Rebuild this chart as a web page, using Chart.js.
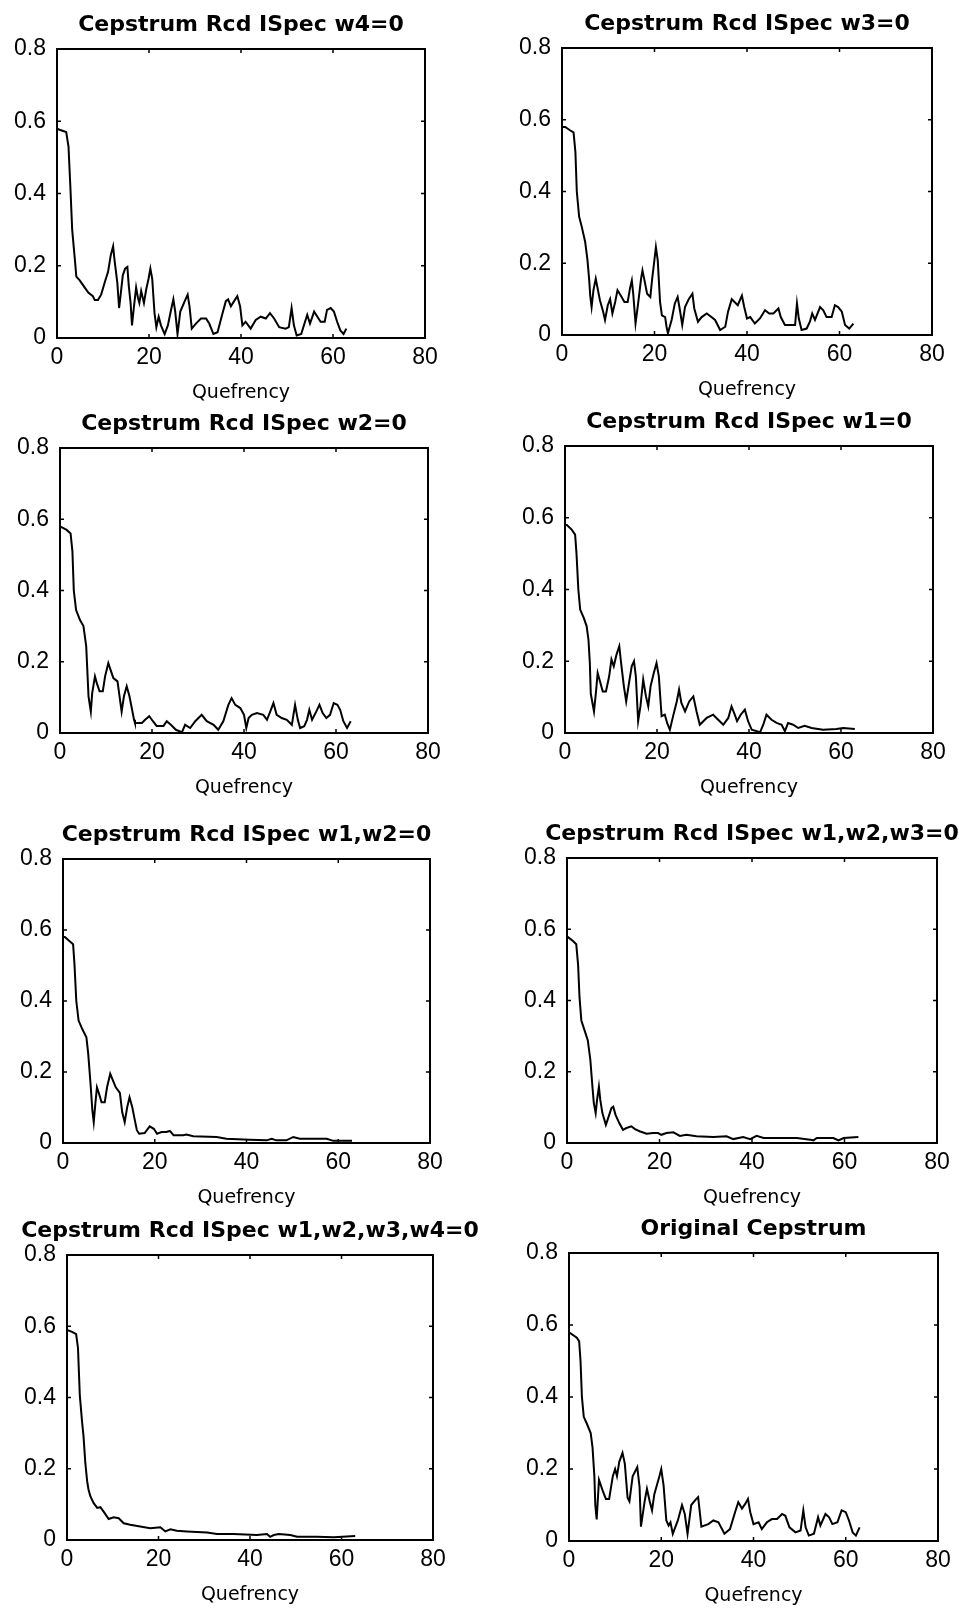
<!DOCTYPE html>
<html>
<head>
<meta charset="utf-8">
<script src="https://cdn.jsdelivr.net/npm/chart.js@4.4.0/dist/chart.umd.min.js"></script>
<style>
  html, body { margin: 0; padding: 0; background: #fff; overflow: hidden; }
  body { width: 959px; height: 1609px; position: relative; }
  canvas { position: absolute; }
</style>
</head>
<body>
<script>
// axis ticks shared by every panel
const xTicks = [0, 20, 40, 60, 80];
const yTicks = [0, 0.2, 0.4, 0.6, 0.8];

const titles = [
  'Cepstrum Rcd ISpec w4=0',
  'Cepstrum Rcd ISpec w3=0',
  'Cepstrum Rcd ISpec w2=0',
  'Cepstrum Rcd ISpec w1=0',
  'Cepstrum Rcd ISpec w1,w2=0',
  'Cepstrum Rcd ISpec w1,w2,w3=0',
  'Cepstrum Rcd ISpec w1,w2,w3,w4=0',
  'Original Cepstrum'
];

// [quefrency, value]
const cepW4 = [[0,0.58],[0.4,0.577],[2.0,0.57],[2.5,0.53],[2.9,0.42],[3.3,0.30],[3.9,0.215],[4.2,0.17],[4.9,0.16],[6.0,0.14],[6.8,0.126],[7.8,0.116],[8.2,0.105],[8.9,0.105],[9.6,0.12],[10.4,0.155],[11.1,0.183],[11.7,0.23],[12.2,0.254],[12.5,0.216],[13.1,0.155],[13.5,0.083],[13.8,0.116],[14.3,0.173],[14.8,0.192],[15.3,0.197],[15.6,0.145],[16.0,0.097],[16.3,0.035],[16.7,0.083],[17.2,0.14],[17.6,0.111],[17.9,0.097],[18.3,0.13],[18.9,0.097],[19.4,0.135],[19.9,0.164],[20.3,0.192],[20.7,0.164],[21.2,0.069],[21.6,0.03],[22.1,0.059],[22.6,0.035],[23.4,0.011],[24.1,0.035],[24.8,0.078],[25.3,0.107],[25.7,0.073],[26.2,0.011],[26.8,0.073],[27.7,0.10],[28.4,0.12],[28.8,0.088],[29.3,0.026],[30.2,0.04],[31.3,0.054],[32.4,0.054],[33.1,0.04],[34.0,0.011],[34.9,0.016],[36.0,0.069],[36.7,0.102],[37.2,0.107],[37.8,0.088],[38.5,0.102],[39.2,0.116],[39.8,0.088],[40.3,0.035],[41.0,0.045],[42.1,0.026],[43.2,0.05],[44.3,0.059],[45.4,0.054],[46.3,0.069],[47.2,0.054],[48.3,0.03],[49.7,0.026],[50.4,0.03],[51.0,0.083],[51.5,0.035],[52.1,0.007],[53.1,0.011],[53.8,0.04],[54.4,0.064],[55.0,0.04],[55.9,0.073],[56.6,0.059],[57.3,0.045],[58.2,0.045],[58.7,0.078],[59.5,0.083],[60.2,0.073],[60.9,0.045],[61.6,0.021],[62.3,0.011],[62.9,0.026]];

const cepW3 = [[0,0.58],[0.7,0.58],[1.8,0.57],[2.5,0.565],[2.9,0.51],[3.2,0.40],[3.7,0.33],[4.3,0.30],[5.0,0.26],[5.5,0.21],[5.9,0.15],[6.1,0.11],[6.4,0.078],[6.8,0.125],[7.3,0.157],[7.7,0.13],[8.2,0.097],[8.9,0.065],[9.3,0.042],[9.9,0.083],[10.4,0.10],[10.9,0.06],[11.5,0.092],[12.0,0.125],[12.7,0.11],[13.5,0.092],[14.2,0.092],[14.7,0.13],[15.1,0.152],[15.4,0.115],[15.9,0.032],[16.5,0.092],[17.1,0.157],[17.4,0.18],[17.9,0.148],[18.4,0.115],[19.1,0.106],[19.5,0.157],[19.9,0.20],[20.3,0.245],[20.7,0.208],[21.2,0.092],[21.6,0.055],[22.3,0.05],[22.6,0.023],[22.9,0.005],[23.7,0.042],[24.4,0.088],[25.0,0.106],[25.5,0.069],[26.0,0.028],[26.6,0.078],[27.4,0.10],[28.2,0.115],[28.6,0.074],[29.4,0.037],[30.2,0.05],[31.3,0.06],[32.3,0.05],[33.1,0.042],[34.2,0.014],[35.3,0.023],[35.9,0.065],[36.7,0.10],[37.3,0.092],[38.0,0.083],[38.9,0.11],[39.4,0.078],[40.0,0.046],[40.7,0.05],[41.7,0.032],[42.8,0.046],[43.9,0.069],[44.8,0.06],[45.7,0.06],[46.8,0.074],[47.3,0.05],[48.2,0.028],[49.3,0.028],[50.4,0.028],[50.8,0.088],[51.2,0.046],[51.8,0.014],[52.9,0.018],[53.6,0.037],[54.1,0.06],[54.7,0.042],[55.8,0.078],[56.5,0.069],[57.2,0.05],[58.3,0.05],[59.0,0.083],[59.7,0.078],[60.5,0.065],[61.2,0.028],[62.1,0.018],[63.0,0.032]];

const cepW2 = [[0,0.58],[1.45,0.57],[2.3,0.56],[2.7,0.51],[3.0,0.40],[3.5,0.345],[4.35,0.317],[5.1,0.30],[5.7,0.243],[5.9,0.187],[6.2,0.103],[6.7,0.06],[7.0,0.112],[7.6,0.159],[8.0,0.14],[8.6,0.117],[9.3,0.117],[9.8,0.159],[10.5,0.196],[11.1,0.173],[11.6,0.154],[12.5,0.145],[13.05,0.093],[13.4,0.06],[13.9,0.103],[14.5,0.131],[15.1,0.103],[15.6,0.07],[16.1,0.037],[16.3,0.028],[17.8,0.028],[18.5,0.037],[19.4,0.047],[20.2,0.033],[21.0,0.02],[22.5,0.02],[23.2,0.033],[24.1,0.023],[25.2,0.009],[26.5,0.002],[27.2,0.023],[28.3,0.014],[29.4,0.033],[30.8,0.051],[31.9,0.033],[33.4,0.023],[34.4,0.009],[35.5,0.033],[36.6,0.079],[37.3,0.098],[38.1,0.079],[39.2,0.07],[40.0,0.051],[40.5,0.014],[41.0,0.042],[41.7,0.051],[42.8,0.056],[44.2,0.051],[45.0,0.037],[45.7,0.06],[46.4,0.084],[47.1,0.051],[48.2,0.042],[49.3,0.037],[50.4,0.023],[51.1,0.079],[51.7,0.037],[52.2,0.014],[53.1,0.019],[53.7,0.037],[54.2,0.065],[54.8,0.037],[55.7,0.06],[56.4,0.079],[57.1,0.056],[57.9,0.042],[58.7,0.051],[59.5,0.084],[60.3,0.079],[60.9,0.065],[61.6,0.033],[62.4,0.014],[63.2,0.033]];

const cepW1 = [[0,0.58],[0.4,0.58],[1.45,0.567],[2.2,0.553],[2.5,0.50],[2.9,0.40],[3.3,0.344],[4.1,0.32],[4.7,0.298],[5.1,0.26],[5.4,0.195],[5.6,0.11],[6.3,0.06],[6.7,0.11],[7.1,0.167],[7.6,0.144],[8.2,0.116],[8.9,0.116],[9.6,0.158],[10.1,0.205],[10.6,0.186],[11.2,0.219],[11.8,0.242],[12.2,0.195],[12.8,0.13],[13.3,0.088],[13.8,0.13],[14.5,0.186],[15.0,0.2],[15.4,0.158],[15.9,0.033],[16.4,0.074],[17.0,0.149],[17.6,0.102],[18.1,0.074],[18.6,0.13],[19.3,0.167],[19.9,0.195],[20.4,0.158],[21.0,0.047],[21.7,0.051],[22.2,0.028],[22.8,0.009],[23.5,0.047],[24.3,0.088],[24.8,0.121],[25.3,0.084],[26.1,0.06],[27.0,0.088],[27.9,0.102],[28.6,0.06],[29.3,0.023],[30.8,0.042],[32.2,0.051],[33.3,0.037],[34.4,0.023],[35.5,0.042],[36.2,0.074],[36.9,0.051],[37.4,0.033],[38.2,0.051],[39.1,0.065],[39.8,0.033],[40.6,0.009],[42.4,0.002],[43.1,0.023],[43.8,0.051],[44.9,0.037],[46.0,0.028],[47.1,0.023],[47.8,0.005],[48.5,0.028],[49.6,0.023],[50.7,0.014],[52.1,0.02],[53.6,0.014],[56.1,0.009],[59.0,0.011],[60.5,0.014],[63.0,0.011]];

const cepW12 = [[0,0.58],[0.4,0.58],[1.45,0.568],[2.2,0.56],[2.5,0.504],[2.9,0.40],[3.4,0.345],[4.2,0.321],[5.1,0.298],[5.5,0.251],[6.0,0.167],[6.4,0.092],[6.7,0.059],[7.05,0.111],[7.4,0.157],[7.85,0.139],[8.4,0.115],[9.1,0.115],[9.6,0.157],[10.3,0.195],[10.9,0.176],[11.5,0.157],[12.4,0.141],[12.9,0.087],[13.45,0.059],[14.0,0.101],[14.5,0.129],[15.1,0.101],[15.6,0.068],[16.1,0.036],[16.6,0.026],[17.8,0.028],[18.9,0.047],[19.8,0.04],[20.5,0.026],[21.5,0.031],[22.5,0.031],[23.3,0.034],[24.1,0.022],[26.2,0.022],[26.9,0.024],[28.4,0.019],[33.5,0.017],[35.6,0.012],[40.7,0.009],[44.4,0.0075],[45.5,0.012],[46.5,0.0075],[48.7,0.0075],[50.2,0.017],[51.6,0.012],[54.5,0.012],[57.5,0.012],[58.9,0.006],[63.0,0.006]];

const cepW123 = [[0,0.58],[0.2,0.58],[1.3,0.567],[2.0,0.558],[2.4,0.50],[2.7,0.41],[3.1,0.344],[3.8,0.316],[4.5,0.288],[5.05,0.233],[5.5,0.158],[5.8,0.112],[6.2,0.084],[6.5,0.121],[6.9,0.158],[7.2,0.121],[7.65,0.084],[8.4,0.051],[8.9,0.07],[9.6,0.098],[10.0,0.102],[10.5,0.079],[11.3,0.056],[12.1,0.037],[12.85,0.042],[13.9,0.047],[14.7,0.039],[15.7,0.033],[17.2,0.026],[18.6,0.028],[19.7,0.028],[20.4,0.023],[21.5,0.028],[23.0,0.03],[24.4,0.02],[25.8,0.023],[28.0,0.019],[31.6,0.017],[34.5,0.019],[35.95,0.011],[38.1,0.017],[39.6,0.011],[41.0,0.02],[42.5,0.014],[46.1,0.014],[49.7,0.014],[52.6,0.009],[53.3,0.0075],[54.0,0.014],[57.6,0.014],[58.7,0.0075],[59.8,0.014],[63.0,0.017]];

const cepW1234 = [[0,0.588],[0.36,0.588],[1.1,0.584],[2.0,0.578],[2.4,0.539],[2.8,0.406],[3.3,0.331],[3.6,0.293],[4.0,0.217],[4.4,0.165],[4.7,0.142],[5.1,0.123],[5.8,0.104],[6.6,0.09],[7.3,0.092],[8.2,0.076],[9.1,0.059],[10.2,0.064],[11.3,0.061],[12.4,0.047],[13.8,0.043],[16.0,0.038],[18.2,0.033],[20.4,0.036],[21.5,0.024],[22.6,0.03],[24.0,0.026],[26.2,0.024],[30.6,0.021],[32.8,0.017],[36.4,0.017],[41.5,0.014],[43.7,0.017],[44.4,0.009],[45.2,0.014],[46.3,0.017],[48.8,0.014],[50.3,0.009],[54.6,0.009],[58.3,0.0075],[63.0,0.011]];

const cepOrig = [[0,0.58],[1.7,0.565],[2.2,0.555],[2.5,0.5],[2.8,0.40],[3.2,0.345],[3.9,0.325],[4.7,0.30],[5.1,0.26],[5.5,0.18],[5.7,0.10],[6.0,0.06],[6.5,0.17],[7.3,0.14],[8.0,0.117],[8.7,0.117],[9.5,0.18],[10.0,0.20],[10.4,0.18],[10.9,0.22],[11.6,0.245],[12.1,0.215],[12.7,0.12],[13.1,0.11],[13.8,0.18],[14.8,0.205],[15.3,0.15],[15.6,0.04],[16.4,0.11],[16.9,0.145],[17.5,0.11],[18.0,0.085],[18.5,0.13],[19.6,0.18],[20.0,0.20],[20.5,0.155],[21.1,0.057],[21.6,0.043],[22.0,0.052],[22.5,0.02],[23.6,0.057],[24.5,0.10],[25.1,0.075],[25.7,0.02],[26.5,0.10],[27.6,0.117],[28.0,0.122],[28.7,0.04],[30.2,0.047],[31.3,0.057],[32.4,0.052],[33.7,0.02],[34.9,0.033],[36.0,0.08],[36.7,0.108],[37.5,0.09],[38.2,0.103],[38.8,0.117],[39.3,0.08],[40.0,0.047],[41.1,0.052],[41.8,0.033],[42.9,0.052],[44.0,0.061],[45.1,0.061],[46.2,0.075],[46.9,0.07],[47.8,0.038],[49.1,0.024],[50.2,0.029],[50.8,0.085],[51.3,0.038],[52.0,0.015],[53.1,0.02],[54.0,0.066],[54.5,0.043],[55.6,0.075],[56.4,0.066],[57.1,0.047],[58.2,0.052],[59.1,0.085],[60.0,0.08],[60.7,0.057],[61.5,0.024],[62.2,0.015],[63.0,0.038]];

const panels = [cepW4, cepW3, cepW2, cepW1, cepW12, cepW123, cepW1234, cepOrig];

// plot box of each panel on the page: left, top, width, height
const boxes = [
  [57, 49, 368, 289], [562, 48, 370, 287],
  [60, 448, 368, 285], [565, 446, 368, 287],
  [63, 859, 367, 284], [567, 858, 370, 285],
  [67, 1255, 366, 285], [569, 1253, 369, 288]
];
const SIDE = 60, TOP = 50, BOTTOM = 70;

// matlab style frame with inward ticks on all four sides
const frame = {
  id: 'frame',
  afterDatasetsDraw(chart) {
    const { ctx, chartArea: a, scales: { x, y } } = chart;
    ctx.save();
    ctx.strokeStyle = '#000';
    ctx.lineWidth = 2;
    ctx.strokeRect(a.left, a.top, a.right - a.left, a.bottom - a.top);
    ctx.lineWidth = 1.5;
    ctx.beginPath();
    xTicks.forEach(v => {
      const px = x.getPixelForValue(v);
      ctx.moveTo(px, a.bottom); ctx.lineTo(px, a.bottom - 4);
      ctx.moveTo(px, a.top); ctx.lineTo(px, a.top + 4);
    });
    yTicks.forEach(v => {
      const py = y.getPixelForValue(v);
      ctx.moveTo(a.left, py); ctx.lineTo(a.left + 4, py);
      ctx.moveTo(a.right, py); ctx.lineTo(a.right - 4, py);
    });
    ctx.stroke();
    ctx.restore();
  }
};

const tickFont = { family: 'Liberation Sans', size: 23 };

panels.forEach((data, i) => {
  const [left, top, w, h] = boxes[i];
  const canvas = document.createElement('canvas');
  canvas.width = w + 2 * SIDE;
  canvas.height = h + TOP + BOTTOM;
  canvas.style.left = (left - SIDE) + 'px';
  canvas.style.top = (top - TOP) + 'px';
  document.body.appendChild(canvas);

  new Chart(canvas, {
    type: 'line',
    data: {
      datasets: [{
        data: data.map(([q, v]) => ({ x: q, y: v })),
        borderColor: '#000',
        borderWidth: 2,
        pointRadius: 0,
        tension: 0,
        fill: false
      }]
    },
    options: {
      responsive: false,
      animation: false,
      devicePixelRatio: 1,
      layout: { padding: 0 },
      plugins: {
        legend: { display: false },
        tooltip: { enabled: false },
        title: {
          display: true,
          text: titles[i],
          color: '#000',
          font: { family: 'DejaVu Sans', size: 22, weight: 'bold', lineHeight: 1 },
          padding: { top: 15, bottom: 13 }
        }
      },
      scales: {
        x: {
          type: 'linear', min: 0, max: 80,
          afterBuildTicks: s => { s.ticks = xTicks.map(v => ({ value: v })); },
          afterFit: s => { s.height = BOTTOM; },
          grid: { display: false, drawTicks: false },
          border: { display: false },
          ticks: { color: '#000', font: tickFont, padding: 6, maxRotation: 0, autoSkip: false },
          title: {
            display: true, text: 'Quefrency', color: '#000',
            font: { family: 'DejaVu Sans', size: 19 },
            padding: { top: 0, bottom: 4 }
          }
        },
        y: {
          min: 0, max: 0.8,
          afterBuildTicks: s => { s.ticks = yTicks.map(v => ({ value: v })); },
          afterFit: s => { s.width = SIDE; },
          grid: { display: false, drawTicks: false },
          border: { display: false },
          ticks: { color: '#000', font: tickFont, padding: 11 }
        },
        // empty right axis so the title centres over the plot box
        yR: {
          position: 'right', display: true,
          afterFit: s => { s.width = SIDE; },
          grid: { display: false, drawTicks: false },
          border: { display: false },
          ticks: { display: false }
        }
      }
    },
    plugins: [frame]
  });
});
</script>
</body>
</html>
